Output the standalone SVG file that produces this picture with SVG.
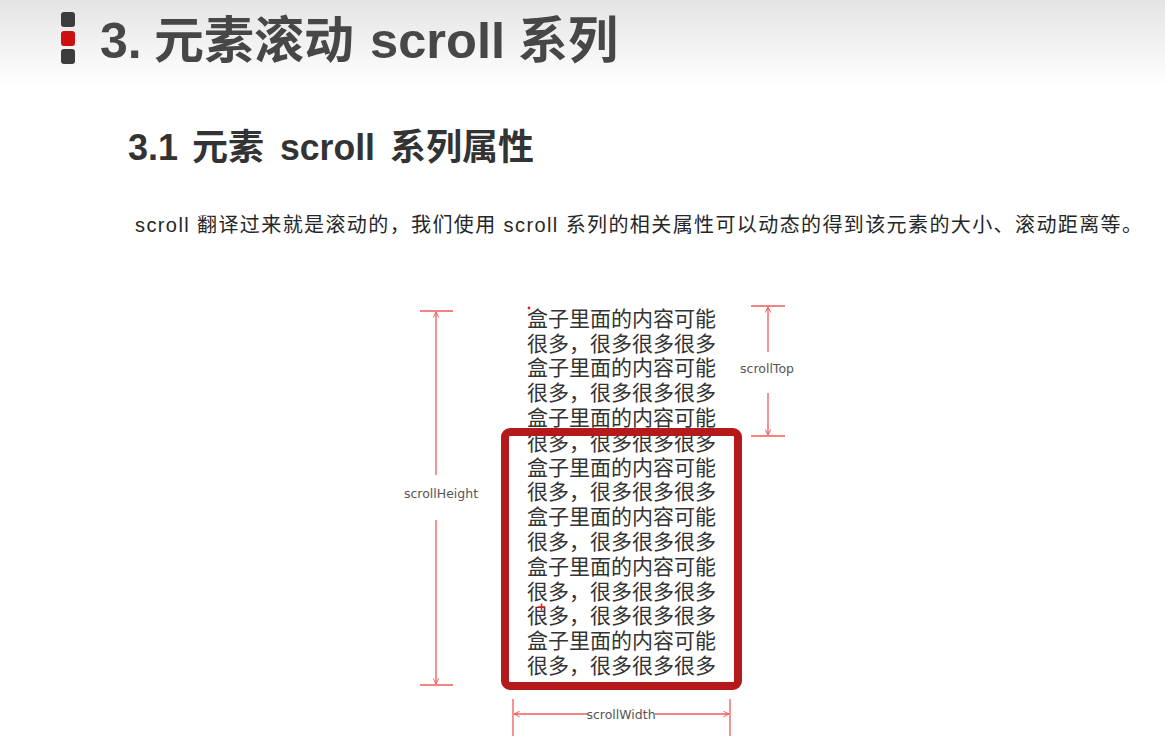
<svg xmlns="http://www.w3.org/2000/svg" width="1165" height="756" viewBox="0 0 1165 756">
  <defs>
    <linearGradient id="topShade" x1="0" y1="0" x2="0" y2="1">
      <stop offset="0" stop-color="#e4e4e4"/>
      <stop offset="1" stop-color="#ffffff"/>
    </linearGradient>
    <marker id="arrow" viewBox="0 0 10 10" refX="9" refY="5" markerWidth="7" markerHeight="7" markerUnits="userSpaceOnUse" orient="auto-start-reverse">
      <path d="M1,1 L9,5 L1,9" fill="none" stroke="#f05a5a" stroke-width="1.4"/>
    </marker>
    <style>
      .cjk { font-family: "Liberation Sans", "Noto Sans CJK SC", sans-serif; }
      .title { font-size: 50px; font-weight: bold; fill: #474747; }
      .sub { font-size: 36px; font-weight: bold; fill: #333333; }
      .para { font-size: 20px; fill: #262626; }
      .content { font-size: 21px; fill: #333333; }
      .dim { stroke: #f05a5a; stroke-width: 1.3; fill: none; }
      .dimlabel { font-family: "DejaVu Sans", "Liberation Sans", sans-serif; font-size: 12.5px; fill: #555555; text-anchor: middle; }
      .box { fill: none; stroke: #b51a1a; stroke-width: 8; }
    </style>
  </defs>

  <rect width="1165" height="756" fill="#ffffff"/>
  <rect width="1165" height="85" fill="url(#topShade)"/>

  <!-- heading marker -->
  <g id="heading-icon">
    <rect x="61" y="12" width="14" height="15" rx="3" fill="#3c3c3c"/>
    <rect x="61" y="31" width="14" height="15" rx="3" fill="#cc1010"/>
    <rect x="61" y="49" width="14" height="15" rx="3" fill="#3c3c3c"/>
  </g>

  <g id="heading">
    <text class="cjk title" y="58"><tspan x="100">3.</tspan><tspan x="154">元素滚动</tspan><tspan x="370" textLength="135" lengthAdjust="spacingAndGlyphs">scroll</tspan><tspan x="518">系列</tspan></text>
  </g>
  <g id="subheading">
    <text class="cjk sub" y="160"><tspan x="128">3.1</tspan><tspan x="192">元素</tspan><tspan x="280" textLength="95" lengthAdjust="spacingAndGlyphs">scroll</tspan><tspan x="390">系列属性</tspan></text>
  </g>
  <g id="description">
    <text class="cjk para" x="135" y="232" textLength="1007" lengthAdjust="spacing">scroll 翻译过来就是滚动的，我们使用 scroll 系列的相关属性可以动态的得到该元素的大小、滚动距离等。</text>
  </g>

  <!-- overflowing content of the box -->
  <g id="content" class="cjk content">
    <text x="527" y="326">盒子里面的内容可能</text>
    <text x="527" y="351">很多，很多很多很多</text>
    <text x="527" y="375">盒子里面的内容可能</text>
    <text x="527" y="400">很多，很多很多很多</text>
    <text x="527" y="425">盒子里面的内容可能</text>
    <text x="527" y="450">很多，很多很多很多</text>
    <text x="527" y="475">盒子里面的内容可能</text>
    <text x="527" y="499">很多，很多很多很多</text>
    <text x="527" y="524">盒子里面的内容可能</text>
    <text x="527" y="549">很多，很多很多很多</text>
    <text x="527" y="574">盒子里面的内容可能</text>
    <text x="527" y="599">很多，很多很多很多</text>
    <text x="527" y="623">很多，很多很多很多</text>
    <text x="527" y="648">盒子里面的内容可能</text>
    <text x="527" y="673">很多，很多很多很多</text>
  </g>

  <!-- visible box -->
  <g id="box">
    <rect class="box" x="505" y="432" width="233" height="254" rx="5"/>
  </g>

  <!-- dimension lines -->
  <g id="connectors">
    <!-- scrollHeight -->
    <line class="dim" x1="420" y1="311" x2="453" y2="311"/>
    <line class="dim" x1="420" y1="685" x2="453" y2="685"/>
    <line class="dim" x1="436" y1="475" x2="436" y2="312" marker-end="url(#arrow)"/>
    <line class="dim" x1="436" y1="520" x2="436" y2="684" marker-end="url(#arrow)"/>
    <!-- scrollTop -->
    <line class="dim" x1="751" y1="306" x2="785" y2="306"/>
    <line class="dim" x1="751" y1="436" x2="785" y2="436"/>
    <line class="dim" x1="768" y1="352" x2="768" y2="307" marker-end="url(#arrow)"/>
    <line class="dim" x1="768" y1="393" x2="768" y2="435" marker-end="url(#arrow)"/>
    <!-- scrollWidth -->
    <line class="dim" x1="513" y1="699" x2="513" y2="736"/>
    <line class="dim" x1="730" y1="699" x2="730" y2="736"/>
    <line class="dim" x1="588" y1="714" x2="514" y2="714" marker-end="url(#arrow)"/>
    <line class="dim" x1="655" y1="714" x2="729" y2="714" marker-end="url(#arrow)"/>
    <!-- small red marks -->
    <circle cx="529" cy="308" r="1.4" fill="#e02020"/>
    <path d="M538,607 H545 M541.5,603.5 V610.5" stroke="#e02020" stroke-width="1.6"/>
  </g>

  <g id="label-scrollHeight"><text class="dimlabel" x="441" y="498">scrollHeight</text></g>
  <g id="label-scrollTop"><text class="dimlabel" x="767" y="373">scrollTop</text></g>
  <g id="label-scrollWidth"><text class="dimlabel" x="621" y="719">scrollWidth</text></g>
</svg>
